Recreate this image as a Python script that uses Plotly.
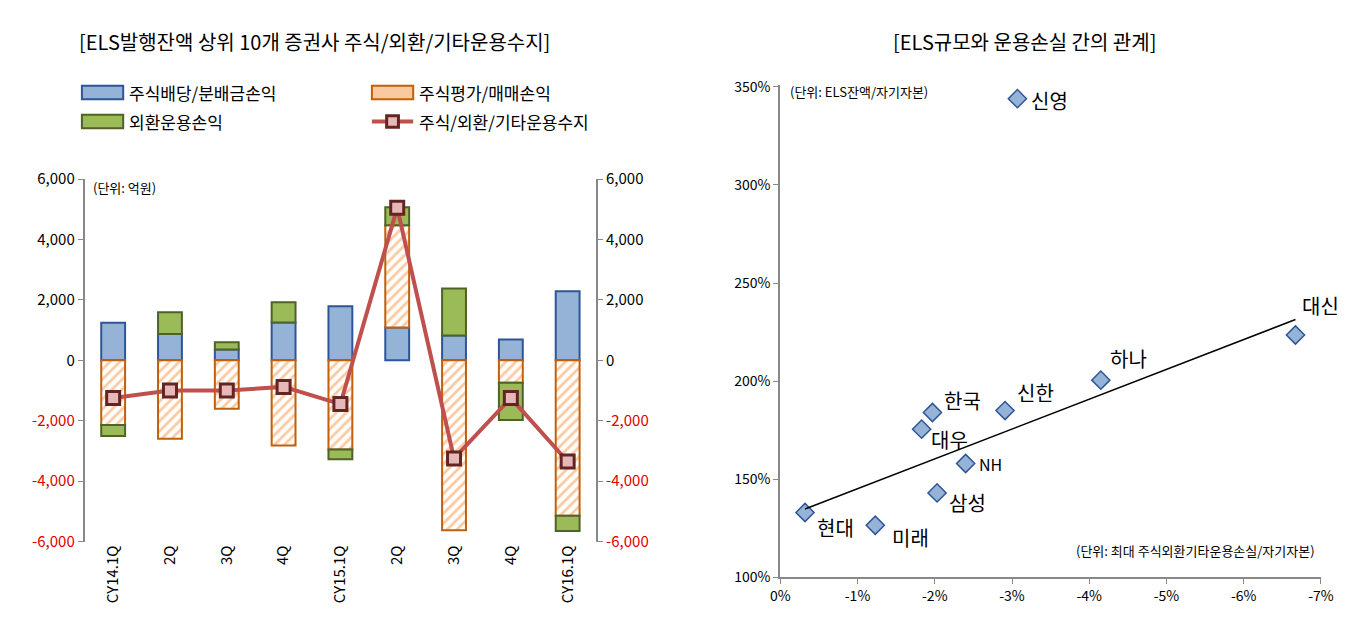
import plotly.graph_objects as go

quarters = ["CY14.1Q", "2Q", "3Q", "4Q", "CY15.1Q", "2Q", "3Q", "4Q", "CY16.1Q"]
dividend = [1240, 870, 360, 1250, 1790, 1090, 820, 690, 2290]
valuation = [-2140, -2600, -1600, -2820, -2950, 3380, -5630, -740, -5150]
fx = [-370, 720, 240, 670, -330, 600, 1560, -1240, -500]
total = [-1250, -1000, -1000, -880, -1450, 5050, -3250, -1250, -3350]

firms = ["현대", "미래", "삼성", "NH", "대우", "한국", "신한", "하나", "대신", "신영"]
loss_pct = [-0.32, -1.23, -2.03, -2.40, -1.83, -1.97, -2.91, -4.15, -6.67, -3.07]
els_pct = [133, 126.5, 143, 158, 175.5, 184, 185, 200.5, 223.5, 344]
trend_x = [-0.32, -6.67]
trend_y = [134.8, 231.4]

FONT = "Noto Sans CJK KR"
W, H = 1358, 617
xi = list(range(len(quarters)))
fig = go.Figure()

fig.add_bar(x=xi, y=dividend, showlegend=False, marker=dict(color="#95b3d7", line=dict(color="#2f5597", width=2)))
fig.add_bar(x=xi, y=valuation, showlegend=False,
            marker=dict(color="white", line=dict(color="#c0600a", width=2),
                        pattern=dict(shape="/", fgcolor="#f79646", bgcolor="white", size=7, solidity=0.4)))
fig.add_bar(x=xi, y=fx, showlegend=False, marker=dict(color="#9bbb59", line=dict(color="#4f6228", width=2)))
fig.add_scatter(x=xi, y=total, showlegend=False, mode="lines+markers",
                line=dict(color="#c0504d", width=4),
                marker=dict(symbol="square", size=13, color="#e6b9b8", line=dict(color="#632523", width=3)))
fig.add_scatter(x=[0], y=[0], yaxis="y2", showlegend=False, mode="markers",
                marker=dict(opacity=0), hoverinfo="skip")

ticks = [6000, 4000, 2000, 0, -2000, -4000, -6000]
ticktext = [f"{t:,}" if t >= 0 else f"<span style='color:#e00000'>{t:,}</span>" for t in ticks]

fig.add_scatter(x=loss_pct, y=els_pct, mode="markers", xaxis="x2", yaxis="y3", showlegend=False,
                marker=dict(symbol="diamond", size=14, color="#95b3d7", line=dict(color="#2f5597", width=1.5)))
fig.add_scatter(x=trend_x, y=trend_y, mode="lines", xaxis="x2", yaxis="y3", showlegend=False,
                line=dict(color="black", width=1.5))

label_off = {"현대": (30, 15), "미래": (35, 12), "삼성": (30, 10), "NH": (25, 0), "대우": (28, 10),
             "한국": (30, -12), "신한": (30, -18), "하나": (28, -22), "대신": (25, -30), "신영": (32, 2)}
for f, x, y in zip(firms, loss_pct, els_pct):
    dx, dy = label_off[f]
    fig.add_annotation(x=x, y=y, xref="x2", yref="y3", text=f, showarrow=False, xshift=dx, yshift=-dy,
                       font=dict(size=20 if f != "NH" else 16, color="black"))

fig.update_layout(
    width=W, height=H, margin=dict(l=0, r=0, t=0, b=0),
    plot_bgcolor="white", paper_bgcolor="white", barmode="relative", bargap=0.58,
    font=dict(family=FONT, size=14, color="black"), showlegend=False,
    xaxis=dict(domain=[0.05, 0.433], tickvals=xi, ticktext=quarters, tickangle=-90,
               range=[-0.5, 8.5], showline=False, showgrid=False, ticks="", tickfont=dict(size=15)),
    yaxis=dict(range=[-6000, 6000], tickvals=ticks, ticktext=ticktext, showgrid=False, showline=True,
               linecolor="#888", linewidth=2, ticks="outside", tickcolor="#888", zeroline=True,
               zerolinecolor="#888", zerolinewidth=2, domain=[0.125, 0.733], tickfont=dict(size=15)),
    yaxis2=dict(range=[-6000, 6000], tickvals=ticks, ticktext=ticktext, overlaying="y", side="right",
                showgrid=False, showline=True, linecolor="#888", linewidth=2, ticks="outside",
                tickcolor="#888", tickfont=dict(size=15)),
    xaxis2=dict(domain=[0.571, 0.976], range=[0, -7], tickvals=[0, -1, -2, -3, -4, -5, -6, -7],
                ticktext=["0%", "-1%", "-2%", "-3%", "-4%", "-5%", "-6%", "-7%"], anchor="y3",
                showgrid=False, showline=True, linecolor="#888", linewidth=2, ticks="outside",
                tickcolor="#888", zeroline=False, tickfont=dict(size=14)),
    yaxis3=dict(domain=[0.065, 0.891], range=[100, 351], tickvals=[100, 150, 200, 250, 300, 350],
                ticktext=["100%", "150%", "200%", "250%", "300%", "350%"], anchor="x2",
                showgrid=False, showline=True, linecolor="#888", linewidth=2, ticks="outside",
                tickcolor="#888", zeroline=False, tickfont=dict(size=14)),
)

# manual legend in two columns
legend_items = [
    ("주식배당/분배금손익", "box", "#95b3d7", "#2f5597", 65, 75),
    ("주식평가/매매손익", "hatch", "#f9c9a0", "#c0600a", 360, 75),
    ("외환운용손익", "box", "#9bbb59", "#4f6228", 65, 105),
    ("주식/외환/기타운용수지", "line", "#e6b9b8", "#632523", 360, 105),
]
for text, kind, fill, edge, px_, py_ in legend_items:
    x0, x1 = px_ / W, (px_ + 42) / W
    y0, y1 = 1 - (py_ + 7) / H, 1 - (py_ - 7) / H
    if kind == "line":
        fig.add_shape(type="line", xref="paper", yref="paper", x0=x0, x1=x1, y0=1 - py_ / H, y1=1 - py_ / H,
                      line=dict(color="#c0504d", width=4))
        fig.add_shape(type="rect", xref="paper", yref="paper", x0=(px_ + 15) / W, x1=(px_ + 27) / W,
                      y0=1 - (py_ + 6) / H, y1=1 - (py_ - 6) / H, fillcolor=fill, line=dict(color=edge, width=3))
    else:
        fig.add_shape(type="rect", xref="paper", yref="paper", x0=x0, x1=x1, y0=y0, y1=y1,
                      fillcolor=fill, line=dict(color=edge, width=2))
    fig.add_annotation(x=(px_ + 46) / W, y=1 - py_ / H, xref="paper", yref="paper", xanchor="left",
                       yanchor="middle", showarrow=False, text=text, font=dict(size=17))

fig.add_annotation(x=60 / W, y=1 - 5 / H, xref="paper", yref="paper", xanchor="left", yanchor="top", showarrow=False,
                   text="[ELS발행잔액 상위 10개 증권사 주식/외환/기타운용수지]", font=dict(size=20))
fig.add_annotation(x=888 / W, y=1 - 5 / H, xref="paper", yref="paper", xanchor="left", yanchor="top", showarrow=False,
                   text="[ELS규모와 운용손실 간의 관계]", font=dict(size=20))
fig.add_annotation(x=0.055, y=0.738, xref="paper", yref="paper", xanchor="left", yanchor="top",
                   showarrow=False, text="(단위: 억원)", font=dict(size=13))
fig.add_annotation(x=0.577, y=0.9, xref="paper", yref="paper", xanchor="left", yanchor="top",
                   showarrow=False, text="(단위: ELS잔액/자기자본)", font=dict(size=13))
fig.add_annotation(x=0.973, y=0.13, xref="paper", yref="paper", xanchor="right", yanchor="top",
                   showarrow=False, text="(단위: 최대 주식외환기타운용손실/자기자본)", font=dict(size=13))

fig.write_html("out.html")
